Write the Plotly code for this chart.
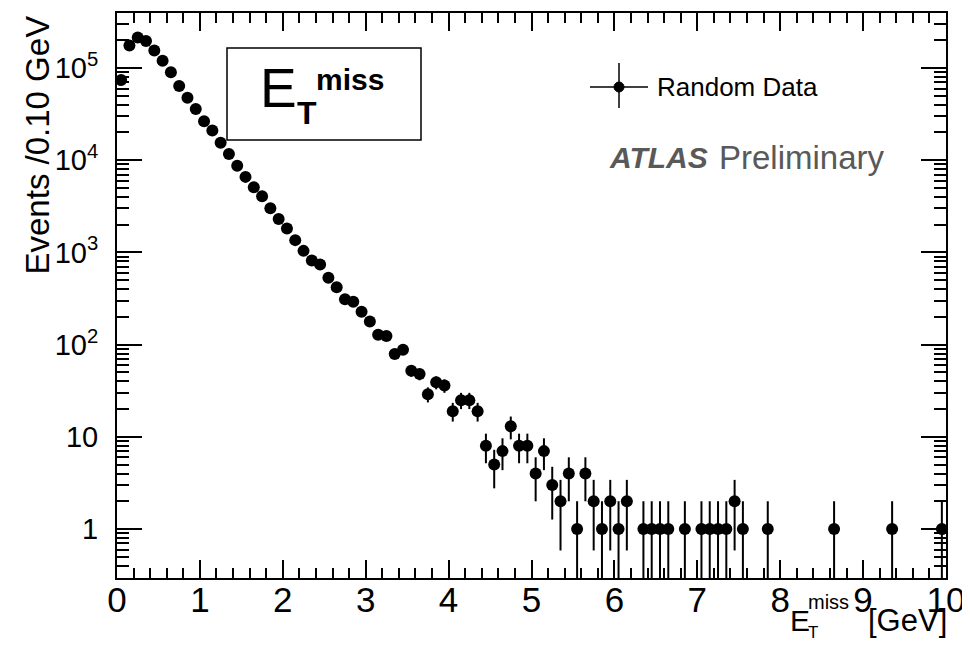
import numpy as np
import plotly.graph_objects as go

# ---------------- data ----------------
bin_width = 0.1
x_min, x_max = 0.0, 10.0
counts = [
    74000, 176000, 214000, 197000, 155000, 120000, 90000, 64000, 47500, 36000,   # 0.0-1.0
    26500, 21000, 15500, 11700, 8700, 6600, 5100, 4080, 3020, 2300,              # 1.0-2.0
    1820, 1360, 1040, 820, 740, 530, 420, 310, 292, 228,                         # 2.0-3.0
    178, 128, 124, 79, 88, 52, 48, 29, 39, 36,                                   # 3.0-4.0
    19, 25, 25, 19, 8, 5, 7, 13, 8, 8,                                           # 4.0-5.0
    4, 7, 3, 2, 4, 1, 4, 2, 1, 2,                                                # 5.0-6.0
    1, 2, 0, 1, 1, 1, 1, 0, 1, 0,                                                # 6.0-7.0
    1, 1, 1, 1, 2, 1, 0, 0, 1, 0,                                                # 7.0-8.0
    0, 0, 0, 0, 0, 0, 1, 0, 0, 0,                                                # 8.0-9.0
    0, 0, 0, 1, 0, 0, 0, 0, 0, 1,                                                # 9.0-10.0
]
x_tick_vals = [0, 1, 2, 3, 4, 5, 6, 7, 8, 9, 10]
y_tick_vals = [1, 10, 100, 1000, 10000, 100000]
y_tick_text = ["1", "10", "10<sup>2</sup>", "10<sup>3</sup>", "10<sup>4</sup>", "10<sup>5</sup>"]
legend_label = "Random Data"
y_title = "Events /0.10 GeV"

# ---------------- derived ----------------
counts_arr = np.array(counts, dtype=float)
centers = x_min + (np.arange(len(counts)) + 0.5) * bin_width
mask = counts_arr > 0
xs = centers[mask]
ys = counts_arr[mask]
errs = np.sqrt(ys)

# page geometry: the browser adds an 8 px body margin, compensate for it
OFF = 8
PAGE_L, PAGE_T, PLOT_W, PLOT_H = 117, 13, 829, 565
W, H = 970 - OFF, 645 - OFF
L, T = PAGE_L - OFF, PAGE_T - OFF
R = W - L - PLOT_W
B = H - T - PLOT_H


def px(xp):
    return (xp - PAGE_L) / PLOT_W


def py(yp):
    return (PAGE_T + PLOT_H - yp) / PLOT_H


FONT = "Arial, Liberation Sans, Helvetica, sans-serif"

fig = go.Figure()
fig.add_trace(go.Scatter(
    x=xs, y=ys, mode="markers",
    marker=dict(color="black", size=12, symbol="circle"),
    error_y=dict(type="data", array=errs, visible=True, thickness=2, width=0, color="black"),
    showlegend=False, cliponaxis=True,
))

minor_y = [m * 10 ** k for k in range(-1, 6) for m in range(2, 10)]

fig.update_layout(
    width=W, height=H,
    margin=dict(l=L, r=R, t=T, b=B, pad=0, autoexpand=False),
    paper_bgcolor="white", plot_bgcolor="white",
    font=dict(family=FONT, color="black"),
    xaxis=dict(
        range=[x_min, x_max], showgrid=False, zeroline=False, automargin=False,
        showline=True, linecolor="black", linewidth=2, mirror="allticks",
        ticks="inside", ticklen=18, tickwidth=1.5, tickcolor="black",
        tickvals=x_tick_vals, ticktext=[str(v) for v in x_tick_vals],
        tickfont=dict(size=35, family=FONT, color="black"),
        ticklabelstandoff=-10, ticklabeloverflow="allow",
        minor=dict(ticks="inside", ticklen=10, tickwidth=1.5, tickcolor="black", dtick=0.2, showgrid=False),
    ),
    yaxis=dict(
        type="log", range=[-0.531, 5.597], showgrid=False, zeroline=False, automargin=False,
        showline=True, linecolor="black", linewidth=2, mirror="allticks",
        ticks="inside", ticklen=25, tickwidth=1.5, tickcolor="black",
        tickvals=y_tick_vals, ticktext=y_tick_text,
        tickfont=dict(size=29, family=FONT, color="black"),
        ticklabelstandoff=11, ticklabeloverflow="allow",
        minor=dict(ticks="inside", ticklen=12, tickwidth=1.5, tickcolor="black", tickvals=minor_y, showgrid=False),
    ),
)

shapes = []
annotations = []

# E_T^miss label box
shapes.append(dict(type="rect", xref="paper", yref="paper",
                   x0=px(227), x1=px(421), y0=py(140), y1=py(48),
                   line=dict(color="black", width=1.5), fillcolor="white", layer="below"))
annotations.append(dict(xref="paper", yref="paper", x=px(258), y=py(88), xanchor="left", yanchor="middle",
                        text="E", showarrow=False, font=dict(size=55, family=FONT, color="black")))
annotations.append(dict(xref="paper", yref="paper", x=px(295), y=py(113), xanchor="left", yanchor="middle",
                        text="<b>T</b>", showarrow=False, font=dict(size=32, family=FONT, color="black")))
annotations.append(dict(xref="paper", yref="paper", x=px(314), y=py(80), xanchor="left", yanchor="middle",
                        text="<b>miss</b>", showarrow=False, font=dict(size=30, family=FONT, color="black")))

# manual legend entry
shapes.append(dict(type="line", xref="paper", yref="paper", x0=px(590), x1=px(648), y0=py(87), y1=py(87),
                   line=dict(color="black", width=1.5)))
shapes.append(dict(type="line", xref="paper", yref="paper", x0=px(619), x1=px(619), y0=py(63), y1=py(108),
                   line=dict(color="black", width=1.5)))
shapes.append(dict(type="circle", xref="paper", yref="paper", x0=px(614), x1=px(624), y0=py(92), y1=py(82),
                   line=dict(color="black", width=1), fillcolor="black"))
annotations.append(dict(xref="paper", yref="paper", x=px(655), y=py(87), xanchor="left", yanchor="middle",
                        text=legend_label, showarrow=False, font=dict(size=26, family=FONT, color="black")))

# ATLAS Preliminary
annotations.append(dict(xref="paper", yref="paper", x=px(607), y=py(158), xanchor="left", yanchor="middle",
                        text="<b><i>ATLAS</i></b>", showarrow=False,
                        font=dict(size=30, family=FONT, color="#595959")))
annotations.append(dict(xref="paper", yref="paper", x=px(717), y=py(158), xanchor="left", yanchor="middle",
                        text="Preliminary", showarrow=False,
                        font=dict(size=33, family=FONT, color="#595959")))

# y-axis title
annotations.append(dict(xref="paper", yref="paper", x=px(37), y=py(14), xanchor="center", yanchor="top",
                        text=y_title, textangle=-90, showarrow=False,
                        font=dict(size=33, family=FONT, color="black")))

# x-axis title E_T^miss [GeV]
annotations.append(dict(xref="paper", yref="paper", x=px(788), y=py(620), xanchor="left", yanchor="middle",
                        text="E", showarrow=False, font=dict(size=30, family=FONT, color="black")))
annotations.append(dict(xref="paper", yref="paper", x=px(806), y=py(632), xanchor="left", yanchor="middle",
                        text="T", showarrow=False, font=dict(size=17, family=FONT, color="black")))
annotations.append(dict(xref="paper", yref="paper", x=px(806), y=py(602), xanchor="left", yanchor="middle",
                        text="miss", showarrow=False, font=dict(size=20, family=FONT, color="black")))
annotations.append(dict(xref="paper", yref="paper", x=px(949), y=py(620), xanchor="right", yanchor="middle",
                        text="[GeV]", showarrow=False, font=dict(size=31, family=FONT, color="black")))

fig.update_layout(shapes=shapes, annotations=annotations)

fig.write_html("out.html")
